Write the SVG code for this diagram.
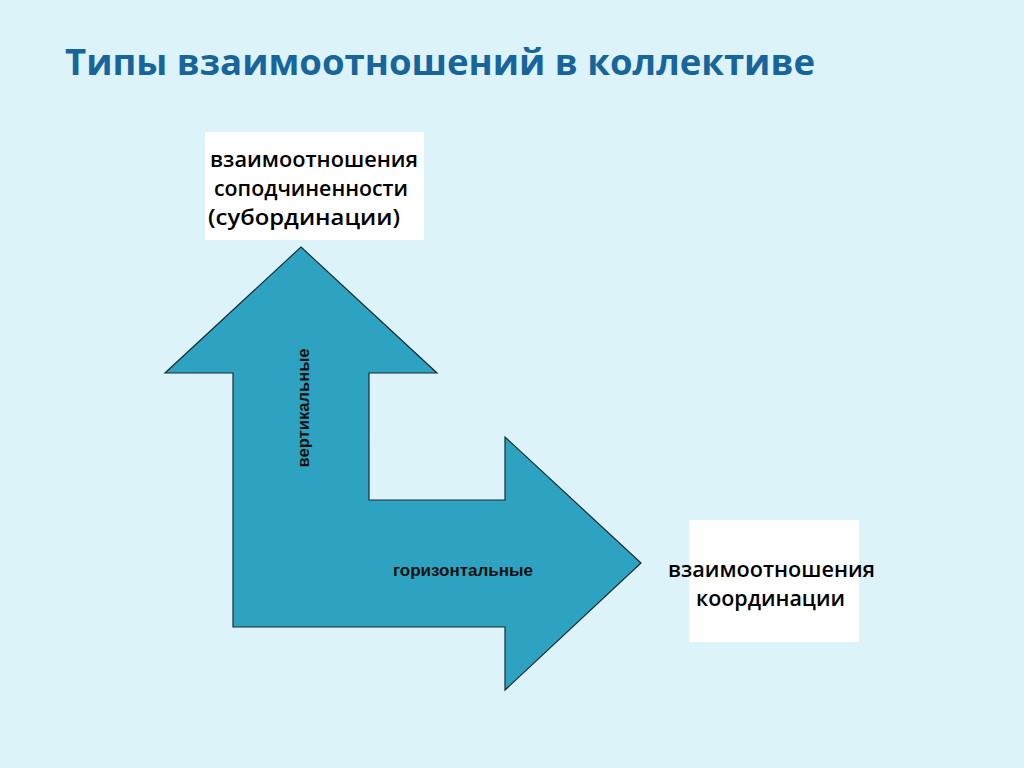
<svg xmlns="http://www.w3.org/2000/svg" width="1024" height="768" viewBox="0 0 1024 768">
<style>
.title{font-family:"Open Sans","Noto Sans",sans-serif;font-weight:bold;font-size:35px;fill:#17659a}
.box{fill:#ffffff}
.bt{font-family:"Open Sans","Noto Sans",sans-serif;font-weight:600;font-size:21.5px;fill:#000}
.lab{font-family:"Liberation Sans",Arial,sans-serif;font-weight:bold;font-size:16px;fill:#111}
.arrow{fill:#2ea3c1;stroke:#1a2a30;stroke-width:1.2}
</style>
<rect width="1024" height="768" fill="#dcf3f9"/>
<text class="title" x="65" y="75" textLength="750" lengthAdjust="spacingAndGlyphs">Типы взаимоотношений в коллективе</text>
<g id="connectors">
<polygon class="arrow" points="301,247 437,373 369,373 369,500 505,500 505,437 641,563 505,690 505,627 233,627 233,373 165,373"/>
<text class="lab" transform="translate(309,408) rotate(-90)" text-anchor="middle" textLength="119" lengthAdjust="spacingAndGlyphs">вертикальные</text>
<text class="lab" x="463" y="576" text-anchor="middle" textLength="140" lengthAdjust="spacingAndGlyphs">горизонтальные</text>
</g>
<g id="node-subordination">
<rect class="box" x="205" y="132" width="219" height="108"/>
<text class="bt" x="210" y="167" textLength="208" lengthAdjust="spacingAndGlyphs">взаимоотношения</text>
<text class="bt" x="214" y="196" textLength="194" lengthAdjust="spacingAndGlyphs">соподчиненности</text>
<text class="bt" x="208" y="225" textLength="192" lengthAdjust="spacingAndGlyphs">(субординации)</text>
</g>
<g id="node-coordination">
<rect class="box" x="689" y="520" width="170" height="122"/>
<text class="bt" x="668" y="577" textLength="207" lengthAdjust="spacingAndGlyphs">взаимоотношения</text>
<text class="bt" x="696" y="606" textLength="149" lengthAdjust="spacingAndGlyphs">координации</text>
</g>
</svg>
